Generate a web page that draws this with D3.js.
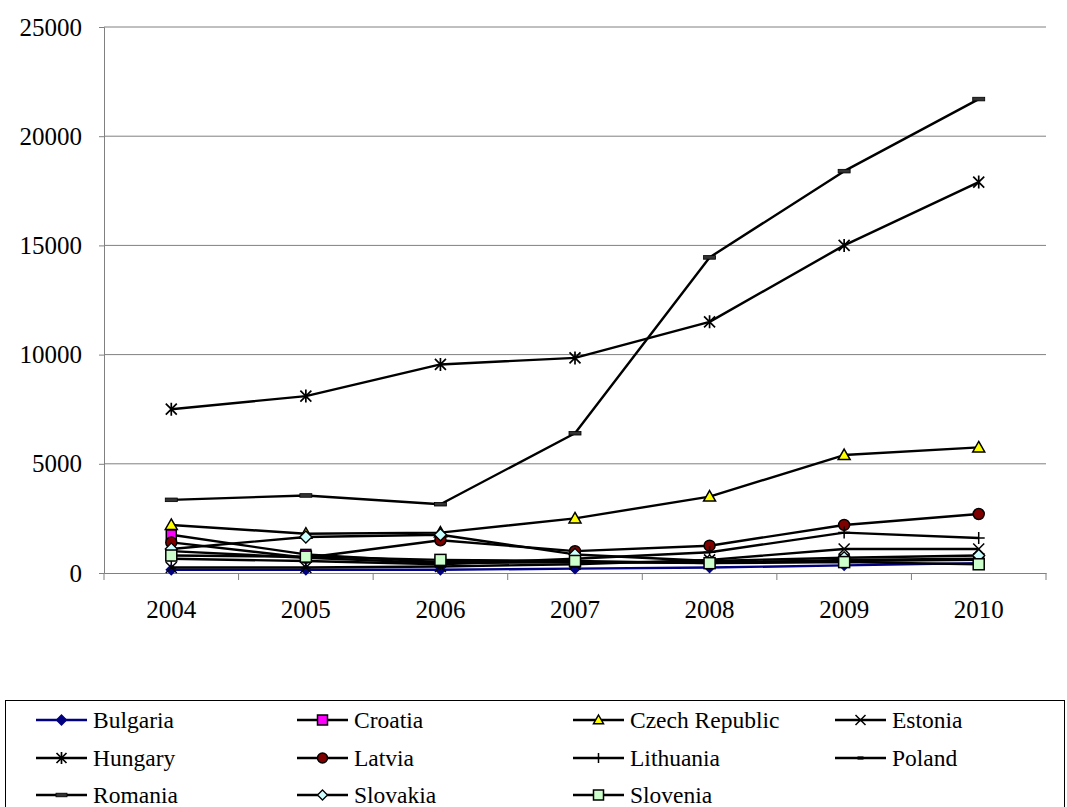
<!DOCTYPE html>
<html>
<head>
<meta charset="utf-8">
<script src="https://cdn.jsdelivr.net/npm/d3@7/dist/d3.min.js"></script>
<style>
  html, body { margin: 0; padding: 0; background: #fff; }
  svg { display: block; }
  svg text { font-family: "Liberation Serif", "Times New Roman", Times, "DejaVu Serif", serif !important; fill: #000; }
</style>
</head>
<body>
<svg id="chart" width="1067" height="807"></svg>
<script>
// ---- data ----
const years = ["2004", "2005", "2006", "2007", "2008", "2009", "2010"];
const yTicks = [0, 5000, 10000, 15000, 20000, 25000];

const bulgaria = [150, 150, 150, 200, 250, 350, 450];
const croatia  = [1750, 850, 500, 500, 450, 600, 650];
const czech    = [2200, 1800, 1850, 2500, 3500, 5400, 5750];
const estonia  = [250, 250, 300, 400, 600, 1100, 1100];
const hungary  = [7500, 8100, 9550, 9850, 11500, 15000, 17900];
const latvia   = [1400, 700, 1500, 1000, 1250, 2200, 2700];
const lithuania= [650, 550, 400, 650, 950, 1850, 1600];
const poland   = [1000, 700, 450, 500, 500, 550, 600];
const romania  = [3350, 3550, 3150, 6400, 14450, 18400, 21700];
const slovakia = [1100, 1650, 1750, 850, 550, 700, 800];
const slovenia = [800, 750, 600, 550, 450, 500, 400];

const seriesNames = ["Bulgaria", "Croatia", "Czech Republic", "Estonia", "Hungary", "Latvia",
                     "Lithuania", "Poland", "Romania", "Slovakia", "Slovenia"];
const seriesValues = [bulgaria, croatia, czech, estonia, hungary, latvia,
                      lithuania, poland, romania, slovakia, slovenia];

// ---- styles ----
const styles = {
  "Bulgaria":       { line: "#000080", marker: "diamond", fill: "#000080", stroke: "#000080", size: 5 },
  "Croatia":        { line: "#000", marker: "square",  fill: "#FF00FF", stroke: "#000", size: 5 },
  "Czech Republic": { line: "#000", marker: "triangle", fill: "#FFFF00", stroke: "#000", size: 6 },
  "Estonia":        { line: "#000", marker: "x",       fill: "none", stroke: "#000", size: 5.5 },
  "Hungary":        { line: "#000", marker: "star",    fill: "none", stroke: "#000", size: 5.5 },
  "Latvia":         { line: "#000", marker: "circle",  fill: "#800000", stroke: "#000", size: 5.5 },
  "Lithuania":      { line: "#000", marker: "plus",    fill: "none", stroke: "#000", size: 6 },
  "Poland":         { line: "#000", marker: "dashS",   fill: "#000", stroke: "#000", size: 3 },
  "Romania":        { line: "#000", marker: "dashL",   fill: "#000", stroke: "#000", size: 6 },
  "Slovakia":       { line: "#000", marker: "diamond", fill: "#CCFFFF", stroke: "#000", size: 6 },
  "Slovenia":       { line: "#000", marker: "square",  fill: "#CCFFCC", stroke: "#000", size: 5.5 }
};

const svg = d3.select("#chart");
const pLeft = 104, pRight = 1046, pTop = 27, pBottom = 573;
const serif = "'Liberation Serif', 'Times New Roman', Times, 'DejaVu Serif', serif";

const x = d3.scaleBand().domain(years).range([pLeft, pRight]);
const xc = d => x(d) + x.bandwidth() / 2;
const y = d3.scaleLinear().domain([0, 25000]).range([pBottom, pTop]);

// gridlines
svg.append("g").selectAll("line").data(yTicks.filter(t => t > 0)).join("line")
  .attr("x1", pLeft).attr("x2", pRight)
  .attr("y1", d => y(d)).attr("y2", d => y(d))
  .attr("stroke", "#808080").attr("stroke-width", 1);

// y axis
const yAxis = d3.axisLeft(y).tickValues(yTicks).tickSize(5).tickPadding(17).tickFormat(d3.format("d"));
const gy = svg.append("g").attr("transform", `translate(${pLeft},0)`).call(yAxis)
  .attr("font-family", serif).attr("font-size", 25);
gy.select(".domain").attr("stroke", "#808080");
gy.selectAll(".tick line").attr("stroke", "#808080");
gy.selectAll(".tick text").attr("fill", "#000");

// x axis
const xAxis = d3.axisBottom(x).tickSize(0).tickPadding(27);
const gx = svg.append("g").attr("transform", `translate(0,${pBottom})`).call(xAxis)
  .attr("font-family", serif).attr("font-size", 25);
gx.select(".domain").attr("stroke", "#808080");
gx.selectAll(".tick text").attr("fill", "#000");
// category boundary ticks
svg.append("g").selectAll("line").data(years).join("line")
  .attr("x1", d => x(d) + x.bandwidth()).attr("x2", d => x(d) + x.bandwidth())
  .attr("y1", pBottom).attr("y2", pBottom + 7)
  .attr("stroke", "#808080");
svg.append("line").attr("x1", pLeft).attr("x2", pLeft).attr("y1", pBottom).attr("y2", pBottom + 7).attr("stroke", "#808080");

// marker drawing
function drawMarker(g, type, st) {
  const s = st.size;
  switch (type) {
    case "diamond":
      g.append("path").attr("d", `M0,${-s}L${s},0L0,${s}L${-s},0Z`)
        .attr("fill", st.fill).attr("stroke", st.stroke).attr("stroke-width", 1.3); break;
    case "square":
      g.append("rect").attr("x", -s).attr("y", -s).attr("width", 2 * s).attr("height", 2 * s)
        .attr("fill", st.fill).attr("stroke", st.stroke).attr("stroke-width", 1.5); break;
    case "triangle":
      g.append("path").attr("d", `M0,${-s}L${s},${s * 0.75}L${-s},${s * 0.75}Z`)
        .attr("fill", st.fill).attr("stroke", st.stroke).attr("stroke-width", 1.5); break;
    case "circle":
      g.append("circle").attr("r", s).attr("fill", st.fill).attr("stroke", st.stroke).attr("stroke-width", 1.5); break;
    case "x":
      g.append("path").attr("d", `M${-s},${-s}L${s},${s}M${-s},${s}L${s},${-s}`)
        .attr("stroke", st.stroke).attr("stroke-width", 1.5); break;
    case "star":
      g.append("path").attr("d", `M${-s},${-s}L${s},${s}M${-s},${s}L${s},${-s}M0,${-s - 1}L0,${s + 1}`)
        .attr("stroke", st.stroke).attr("stroke-width", 1.7); break;
    case "plus":
      g.append("path").attr("d", `M${-s},0L${s},0M0,${-s}L0,${s}`)
        .attr("stroke", st.stroke).attr("stroke-width", 1.5); break;
    case "dashS":
      g.append("rect").attr("x", -s).attr("y", -1.6).attr("width", 2 * s).attr("height", 3.2)
        .attr("fill", st.fill); break;
    case "dashL":
      g.append("rect").attr("x", -s).attr("y", -1.8).attr("width", 2 * s).attr("height", 3.6)
        .attr("fill", "#333").attr("stroke", "#000").attr("stroke-width", 0.8); break;
  }
}

const line = d3.line().x((d, i) => xc(years[i])).y(d => y(d));

seriesNames.forEach((name, si) => {
  const st = styles[name];
  const vals = seriesValues[si];
  const g = svg.append("g");
  g.append("path").datum(vals).attr("d", line)
    .attr("fill", "none").attr("stroke", st.line).attr("stroke-width", 2.4).attr("stroke-linejoin", "round");
  vals.forEach((v, i) => {
    const mg = g.append("g").attr("transform", `translate(${xc(years[i])},${y(v)})`);
    drawMarker(mg, st.marker, st);
  });
});

// legend
svg.append("rect").attr("x", 5.5).attr("y", 700.5).attr("width", 1059).attr("height", 140)
  .attr("fill", "none").attr("stroke", "#000").attr("stroke-width", 1);
const colX = [36, 297, 573, 835];
const rowY = [720, 758, 795];
seriesNames.forEach((name, i) => {
  const st = styles[name];
  const cx = colX[i % 4], cy = rowY[Math.floor(i / 4)];
  const g = svg.append("g").attr("transform", `translate(${cx},${cy})`);
  g.append("line").attr("x1", 0).attr("x2", 51).attr("y1", 0).attr("y2", 0)
    .attr("stroke", st.line).attr("stroke-width", 2.4);
  const mg = g.append("g").attr("transform", "translate(25.5,0)");
  const lst = Object.assign({}, st, { size: st.marker === "dashL" ? 5.5 : Math.min(st.size, 5) });
  drawMarker(mg, st.marker, lst);
  g.append("text").attr("x", 57).attr("y", 0).attr("dy", "0.35em")
    .attr("font-family", serif).attr("font-size", 23.5).text(name);
});
</script>
</body>
</html>
